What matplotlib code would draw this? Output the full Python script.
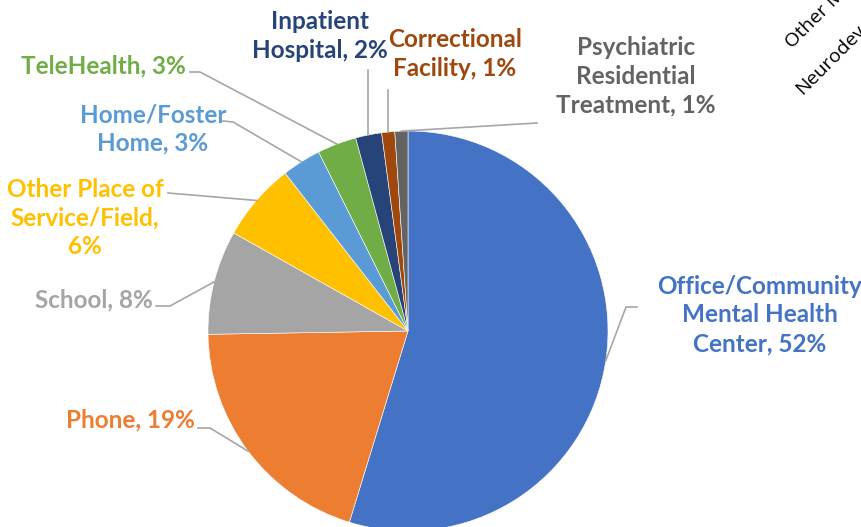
import numpy as np
import matplotlib.pyplot as plt

# Datos del gráfico (porcentajes por lugar de servicio)
categorias = ['Office/Community Mental Health Center', 'Phone', 'School',
              'Other Place of Service/Field', 'Home/Foster Home', 'TeleHealth',
              'Inpatient Hospital', 'Correctional Facility',
              'Psychiatric Residential Treatment']
valores = [52, 19, 8, 6, 3, 3, 2, 1, 1]
colores = ['#4472C4', '#ED7D31', '#A5A5A5', '#FFC000', '#5B9BD5',
           '#70AD47', '#264478', '#9E480E', '#636363']

# Textos de las etiquetas
etiquetas = ['Office/Community\nMental Health\nCenter, 52%', 'Phone, 19%', 'School, 8%',
             'Other Place of\nService/Field,\n6%', 'Home/Foster\nHome, 3%', 'TeleHealth, 3%',
             'Inpatient\nHospital, 2%', 'Correctional\nFacility, 1%',
             'Psychiatric\nResidential\nTreatment, 1%']

W, H = 862, 527
fig = plt.figure(figsize=(W / 100, H / 100), dpi=100)
ax = fig.add_axes([0, 0, 1, 1])

cx, cy, r = 408, H - 331, 200
wedges, _ = ax.pie(valores, colors=colores, startangle=90, counterclock=False,
                   center=(cx, cy), radius=r,
                   wedgeprops=dict(edgecolor='white', linewidth=0.4))
ax.set_xlim(0, W)
ax.set_ylim(0, H)
ax.set_aspect('equal')
ax.axis('off')

# Posición del texto (x, y en píxeles desde arriba), alineación, codo de la línea
pos = [
    (760, 315, 'center', [(637, 307), (626, 307)]),
    (195, 420, 'right', [(198, 428), (210, 428)]),
    (153, 300, 'right', [(156, 306), (170, 306)]),
    (85, 218, 'center', [(168, 193)]),
    (153, 129, 'center', [(223, 121), (233, 122)]),
    (186, 66, 'right', [(190, 72), (200, 72)]),
    (320, 36, 'center', [(368, 70)]),
    (455, 54, 'center', [(388, 90)]),
    (636, 76, 'center', [(537, 123)]),
]

for w, txt, col, (x, y, ha, codo) in zip(wedges, etiquetas, colores, pos):
    ax.text(x, H - y, txt, ha=ha, va='center', color=col, fontsize=17.5,
            fontweight='bold', family='Lato', linespacing=1.3)
    ang = np.deg2rad((w.theta1 + w.theta2) / 2)
    ex, ey = w.center[0] + w.r * np.cos(ang), w.center[1] + w.r * np.sin(ang)
    xs = [p[0] for p in codo] + [ex]
    ys = [H - p[1] for p in codo] + [ey]
    if len(codo) == 1 and codo[0][0] in (368, 388):
        xs[-1] = codo[0][0]
    ax.plot(xs, ys, color='#A6A6A6', lw=1.2)

# Fragmentos del gráfico vecino (cortados por el borde)
ax.text(795, H - 52, 'Other Mental Health', rotation=45, rotation_mode='anchor',
        ha='left', va='bottom', fontsize=14, family='Open Sans', color='black')
ax.text(805, H - 98, 'Neurodevelopmental', rotation=45, rotation_mode='anchor',
        ha='left', va='bottom', fontsize=14, family='Open Sans', color='black')
ax.text(735, H - 3, 'Substance Use', rotation=45, rotation_mode='anchor',
        ha='left', va='bottom', fontsize=14, family='Open Sans', color='black')

plt.savefig('out.png', dpi=100)
